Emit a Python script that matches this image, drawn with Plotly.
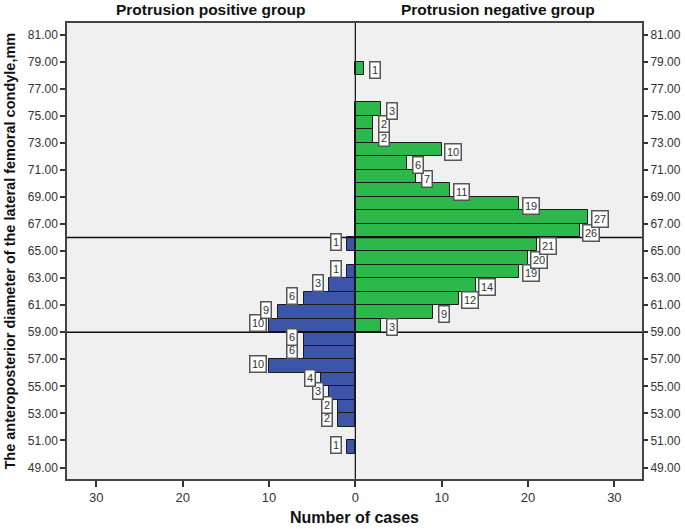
import plotly.graph_objects as go

# ---- data ----
pos_bins = [50.5, 52.5, 53.5, 54.5, 55.5, 56.5, 57.5, 58.5, 59.5, 60.5, 61.5, 62.5, 63.5, 65.5]
pos_counts = [1, 2, 2, 3, 4, 10, 6, 6, 10, 9, 6, 3, 1, 1]

neg_bins = [59.5, 60.5, 61.5, 62.5, 63.5, 64.5, 65.5, 66.5, 67.5, 68.5, 69.5, 70.5, 71.5, 72.5, 73.5, 74.5, 75.5, 78.5]
neg_counts = [3, 9, 12, 14, 19, 20, 21, 26, 27, 19, 11, 7, 6, 10, 2, 2, 3, 1]

ref_lines = [59, 66]
y_ticks = list(range(49, 82, 2))
x_ticks = [-30, -20, -10, 0, 10, 20, 30]
x_ticktext = ["30", "20", "10", "0", "10", "20", "30"]

group_titles = ["Protrusion positive group", "Protrusion negative group"]
y_title = "The anteroposterior diameter of the lateral femoral condyle,mm"
x_title = "Number of cases"

BLUE = "#3c55a9"
GREEN = "#2db84b"
FONT = "Liberation Sans"

fig = go.Figure()
fig.add_trace(go.Bar(
    y=pos_bins, x=[-c for c in pos_counts], orientation="h", width=1,
    marker=dict(color=BLUE, line=dict(color="#1a1a1a", width=1)),
    showlegend=False, hoverinfo="skip"))
fig.add_trace(go.Bar(
    y=neg_bins, x=neg_counts, orientation="h", width=1,
    marker=dict(color=GREEN, line=dict(color="#1a1a1a", width=1)),
    showlegend=False, hoverinfo="skip"))
# invisible trace for the right-hand axis
fig.add_trace(go.Scatter(x=[0], y=[65], yaxis="y2", mode="markers",
                         marker=dict(opacity=0), showlegend=False, hoverinfo="skip"))

ann = []
for b, c in zip(pos_bins, pos_counts):
    ann.append(dict(x=-(c + 1.3), y=b + 0.15, text=str(c), showarrow=False,
                    font=dict(family=FONT, size=11, color="#333"),
                    bgcolor="white", bordercolor="#555", borderwidth=1.5, borderpad=1.5))
for b, c in zip(neg_bins, neg_counts):
    ann.append(dict(x=c + 1.3, y=b - 0.15, text=str(c), showarrow=False,
                    font=dict(family=FONT, size=11, color="#333"),
                    bgcolor="white", bordercolor="#555", borderwidth=1.5, borderpad=1.5))
for i, t in enumerate(group_titles):
    ann.append(dict(x=0.25 + 0.5 * i, y=1.03, xref="paper", yref="paper",
                    xanchor="center", yanchor="middle",
                    text="<b>%s</b>" % t, showarrow=False,
                    font=dict(family=FONT, size=15.5, color="#111")))
ann.append(dict(x=-0.1, y=0.5, xref="paper", yref="paper", xanchor="center",
                yanchor="middle", textangle=-90, text="<b>%s</b>" % y_title,
                showarrow=False, font=dict(family=FONT, size=14.5, color="#111")))
ann.append(dict(x=0.5, y=-0.085, xref="paper", yref="paper", xanchor="center",
                yanchor="middle", text="<b>%s</b>" % x_title,
                showarrow=False, font=dict(family=FONT, size=16, color="#111")))

shapes = []
for v in ref_lines:
    shapes.append(dict(type="line", xref="paper", x0=0, x1=1, yref="y", y0=v, y1=v,
                       line=dict(color="#111", width=1.5)))
shapes.append(dict(type="line", xref="x", x0=0, x1=0, yref="paper", y0=0, y1=1,
                   line=dict(color="#111", width=1.2)))

yrange = [48.15, 81.85]
fig.update_layout(
    width=685, height=529,
    margin=dict(l=67, r=43, t=23, b=50),
    paper_bgcolor="white", plot_bgcolor="#f0f0f0",
    barmode="overlay", bargap=0,
    annotations=ann, shapes=shapes,
    font=dict(family=FONT, color="#333"),
    xaxis=dict(range=[-33.4, 33.2], tickvals=x_ticks, ticktext=x_ticktext,
               ticks="outside", ticklen=6, tickcolor="#333", tickwidth=1.5,
               showgrid=False, zeroline=False, showline=True, linecolor="#444",
               linewidth=1.5, mirror=True, tickfont=dict(size=13, color="#333"),
               automargin=False),
    yaxis=dict(range=yrange, tickvals=y_ticks, tickformat=".2f",
               ticks="outside", ticklen=5, tickcolor="#333", tickwidth=1.5,
               showgrid=False, zeroline=False, showline=True, linecolor="#444",
               linewidth=1.5, mirror=True, tickfont=dict(size=12, color="#333"),
               automargin=False),
    yaxis2=dict(range=yrange, tickvals=y_ticks, tickformat=".2f", overlaying="y",
                side="right", anchor="x", ticks="outside", ticklen=5, tickcolor="#333",
                tickwidth=1.5, showgrid=False, zeroline=False, showline=False,
                tickfont=dict(size=12, color="#333"), automargin=False),
)

fig.write_html("out.html", config={"displayModeBar": False},
               post_script="document.body.style.margin='0';document.body.style.overflow='hidden';")
